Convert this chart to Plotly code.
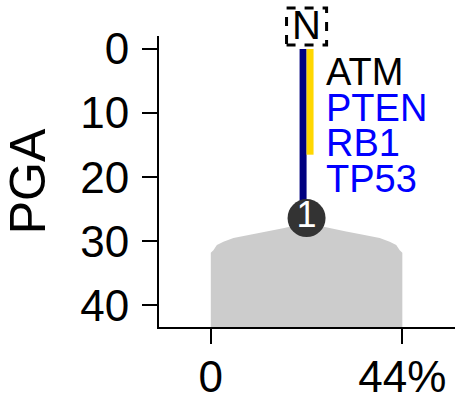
import plotly.graph_objects as go

# ---- data ----
freq_max = 44                 # percent, x axis max tick
center = freq_max / 2
y_ticks = [0, 10, 20, 30, 40]
x_ticks = [0, 44]
x_tick_labels = ["0", "44%"]
y_range = [43.4, -2.03]
x_range = [-11.9, 56.1]

# density outline (left half), mirrored for right half
dens_x_left = [0, 0, 0.6, 1.4, 2.9, 5.2, 9.0, 12.9, 16.6, 19.7, 22]
dens_y_left = [43.4, 31.8, 31.4, 30.6, 30.1, 29.5, 29.0, 28.5, 27.97, 27.5, 27.2]

navy_end = 26.4      # PGA value of clone 1 node
yellow_end = 16.5
node_label = "1"
genes = ["ATM", "PTEN", "RB1", "TP53"]
gene_colors = ["black", "blue", "blue", "blue"]

FONT = "Liberation Sans, Arial, sans-serif"

dens_x = dens_x_left + [freq_max - v for v in reversed(dens_x_left[:-1])]
dens_y = dens_y_left + list(reversed(dens_y_left[:-1]))

fig = go.Figure()
fig.add_trace(go.Scatter(x=dens_x, y=dens_y, fill="toself", mode="lines",
                         line=dict(width=0, color="#cccccc"),
                         fillcolor="#cccccc", hoverinfo="skip"))
fig.add_trace(go.Scatter(x=[center - 0.8, center - 0.8], y=[0, navy_end], mode="lines",
                         line=dict(color="#000080", width=7)))
fig.add_trace(go.Scatter(x=[center + 0.8, center + 0.8], y=[0, yellow_end], mode="lines",
                         line=dict(color="#FFD700", width=7)))
fig.add_trace(go.Scatter(x=[center], y=[navy_end], mode="markers+text",
                         marker=dict(size=38, color="#333333", line=dict(width=0)),
                         text=[node_label], textposition="middle center",
                         textfont=dict(color="white", size=36, family=FONT)))

# gene labels
for i, (g, c) in enumerate(zip(genes, gene_colors)):
    fig.add_annotation(x=center + 4.1, y=3.6 + i * 5.55, text=g, showarrow=False,
                       xanchor="left", yanchor="middle",
                       font=dict(color=c, size=38, family=FONT))

# "N" label with dashed box
fig.add_annotation(x=center, y=1.037, yref="paper", text="N", showarrow=False,
                   xanchor="center", yanchor="middle",
                   font=dict(color="black", size=40, family=FONT))
fig.add_shape(type="rect", xref="x", yref="paper", x0=center - 4.6, x1=center + 4.6,
              y0=0.969, y1=1.096, line=dict(color="black", width=3, dash="dash"))

fig.update_layout(
    width=455, height=401,
    margin=dict(l=159, r=0, t=36, b=74, autoexpand=False),
    paper_bgcolor="white", plot_bgcolor="white",
    showlegend=False,
    font=dict(family=FONT, color="black"),
)
fig.update_xaxes(range=x_range, tickvals=x_ticks, ticktext=x_tick_labels, automargin=False,
                 showgrid=False, zeroline=False, showline=True, linecolor="black",
                 linewidth=2, ticks="outside", ticklen=15, tickwidth=2, tickcolor="black",
                 tickfont=dict(size=44, family=FONT), ticklabelstandoff=-5)
fig.update_yaxes(range=y_range, tickvals=y_ticks, showgrid=False, zeroline=False, automargin=False,
                 showline=True, linecolor="black", linewidth=2, ticks="outside",
                 ticklen=15, tickwidth=2, tickcolor="black",
                 tickfont=dict(size=44, family=FONT), ticklabelstandoff=4,
                 title=dict(text="PGA", font=dict(size=50, family=FONT), standoff=22))

fig.write_html("out.html", config={"displayModeBar": False},
               post_script="document.body.style.margin='0';document.body.style.overflow='hidden';")
